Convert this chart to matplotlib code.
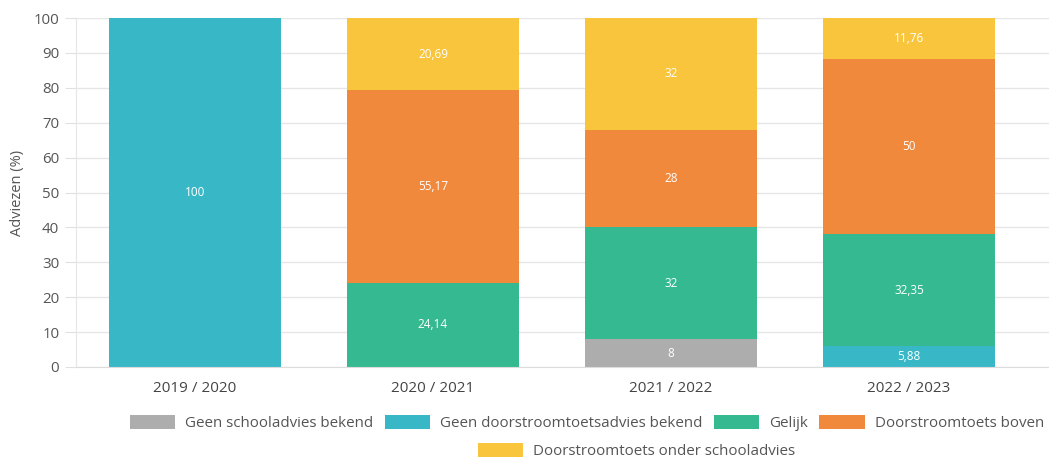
import matplotlib
matplotlib.use('Agg')
import matplotlib.pyplot as plt
import numpy as np

plt.rcParams['font.family'] = ['Open Sans', 'DejaVu Sans']

# Data
years = ['2019 / 2020', '2020 / 2021', '2021 / 2022', '2022 / 2023']
geen_schooladvies = [0, 0, 8, 0]
geen_doorstroom = [100, 0, 0, 5.88]
gelijk = [0, 24.14, 32, 32.35]
boven = [0, 55.17, 28, 50]
onder = [0, 20.69, 32, 11.76]

# the reference legend is cut at the right edge after "boven"
series = [
    ('Geen schooladvies bekend', geen_schooladvies, '#adadad'),
    ('Geen doorstroomtoetsadvies bekend', geen_doorstroom, '#38b8c7'),
    ('Gelijk', gelijk, '#35b990'),
    ('Doorstroomtoets boven', boven, '#f0893c'),
    ('Doorstroomtoets onder schooladvies', onder, '#f9c53c'),
]

fig = plt.figure(figsize=(10.49, 4.59), dpi=100)
ax = fig.add_axes([76 / 1049, 1 - 367 / 459, 1 - 76 / 1049, (367 - 18) / 459])

x = np.arange(len(years))
bottom = np.zeros(len(years))
handles = []
for name, vals, color in series:
    vals = np.array(vals, dtype=float)
    bars = ax.bar(x, vals, width=0.72, bottom=bottom, color=color, linewidth=0, zorder=2, label=name)
    handles.append(bars)
    for xi, b, v in zip(x, bottom, vals):
        if v > 0:
            ax.text(xi, b + v / 2, f'{v:g}'.replace('.', ','), ha='center', va='center',
                    color='white', fontsize=8.5, zorder=3)
    bottom += vals

ax.set_ylim(0, 100)
ax.set_xlim(-0.5, -0.5 + (1049 - 76) / 238)
ax.set_yticks(range(0, 101, 10))
ax.set_xticks(x)
ax.set_xticklabels(years)
ax.grid(axis='y', color='#e6e6e6', linewidth=1, zorder=0)
for s in ['top', 'right']:
    ax.spines[s].set_visible(False)
ax.spines['left'].set_color('#e6e6e6')
ax.spines['bottom'].set_color('#dcdcdc')
ax.tick_params(axis='y', colors='#e0e0e0', labelcolor='#555555', labelsize=10.8, length=8, pad=4)
ax.tick_params(axis='x', length=0, labelcolor='#444444', labelsize=11, pad=10)
ax.set_ylabel('Adviezen (%)', color='#555555', fontsize=10.5, labelpad=6)

leg_kw = dict(frameon=False, fontsize=10.9, handlelength=3.0, handleheight=1.05,
              handletextpad=0.65, columnspacing=0.75, labelcolor='#555555', borderaxespad=0)
leg1 = fig.legend(handles[:4], [s[0] for s in series[:4]], ncol=4, loc='center left',
                  bbox_to_anchor=(124 / 1049, 1 - 423 / 459), **leg_kw)
leg2 = fig.legend(handles[4:], [series[4][0]], ncol=1, loc='center left',
                  bbox_to_anchor=(472 / 1049, 1 - 451 / 459), **leg_kw)

fig.savefig('out.png', dpi=100)
